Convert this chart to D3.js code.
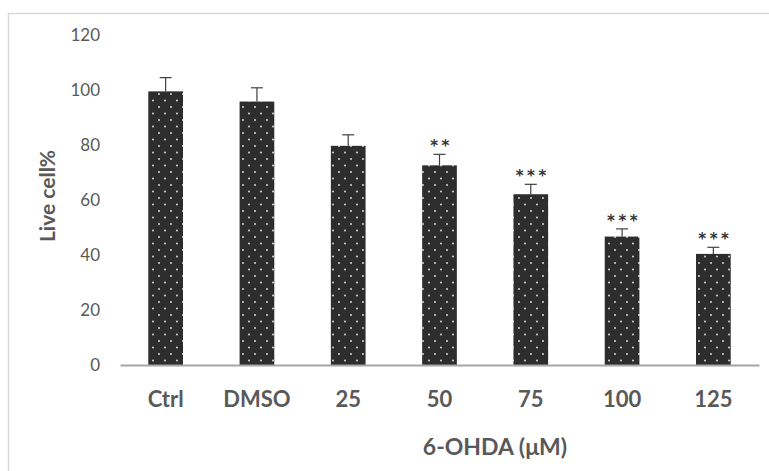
<!DOCTYPE html>
<html>
<head>
<meta charset="utf-8">
<script src="https://cdn.jsdelivr.net/npm/d3@7"></script>
<style>
  body { margin: 0; background: #fff; }
  svg { display: block; }
</style>
</head>
<body>
<div id="chart"></div>
<script>
"use strict";

// Data
const groups = ["Ctrl", "DMSO", "25", "50", "75", "100", "125"];
const liveCell = [99.5, 95.8, 79.7, 72.6, 62.1, 46.7, 40.4];
const errors = [5.0, 5.0, 4.0, 4.0, 3.6, 2.8, 2.4];
const stars = ["", "", "", "**", "***", "***", "***"];
const yTicks = [0, 20, 40, 60, 80, 100, 120];

const width = 769, height = 471;
const margin = {top: 35, right: 10, bottom: 106, left: 120};
const font = "Lato, 'Open Sans', sans-serif";

let svg = d3.select("#chart").append("svg")
  .attr("width", width)
  .attr("height", height);

// Dotted fill for the bars
let defs = svg.append("defs");
let pat = defs.append("pattern")
  .attr("id", "dots")
  .attr("patternUnits", "userSpaceOnUse")
  .attr("width", 12)
  .attr("height", 13);
pat.append("rect").attr("width", 12).attr("height", 13).attr("fill", "#2d2d2d");
pat.append("circle").attr("cx", 3).attr("cy", 3).attr("r", 0.9).attr("fill", "#e8e8e8");
pat.append("circle").attr("cx", 9).attr("cy", 9.5).attr("r", 0.9).attr("fill", "#e8e8e8");

// Frame (top and left edges visible)
svg.append("line")
  .attr("x1", 8).attr("x2", width).attr("y1", 13.5).attr("y2", 13.5)
  .attr("stroke", "#d9d9d9").attr("stroke-width", 1.5);
svg.append("line")
  .attr("x1", 8.5).attr("x2", 8.5).attr("y1", 13).attr("y2", height)
  .attr("stroke", "#d9d9d9").attr("stroke-width", 1.5);

let x = d3.scaleBand()
  .domain(groups)
  .range([margin.left, width - margin.right])
  .paddingInner(0.62)
  .paddingOuter(0.31);

let y = d3.scaleLinear()
  .domain([0, 120])
  .range([height - margin.bottom, margin.top]);

// Y axis labels (no line)
let yAxis = svg.append("g")
  .attr("transform", "translate(" + (margin.left - 20) + ",0)")
  .call(d3.axisLeft(y).tickValues(yTicks).tickSize(0).tickPadding(0));
yAxis.select(".domain").remove();
yAxis.selectAll("text")
  .attr("font-family", font)
  .attr("font-size", "17px")
  .attr("fill", "#595959");

// Bars
svg.selectAll(".bar")
  .data(groups)
  .enter().append("rect")
  .attr("class", "bar")
  .attr("x", d => x(d))
  .attr("y", (d, i) => y(liveCell[i]))
  .attr("width", x.bandwidth())
  .attr("height", (d, i) => y(0) - y(liveCell[i]))
  .attr("fill", "url(#dots)");

// Error bars (upper only)
let eb = svg.selectAll(".err")
  .data(groups)
  .enter().append("g")
  .attr("class", "err")
  .attr("stroke", "#404040")
  .attr("stroke-width", 1.2);
eb.append("line")
  .attr("x1", d => x(d) + x.bandwidth() / 2)
  .attr("x2", d => x(d) + x.bandwidth() / 2)
  .attr("y1", (d, i) => y(liveCell[i]))
  .attr("y2", (d, i) => y(liveCell[i] + errors[i]));
eb.append("line")
  .attr("x1", d => x(d) + x.bandwidth() / 2 - 6)
  .attr("x2", d => x(d) + x.bandwidth() / 2 + 6)
  .attr("y1", (d, i) => y(liveCell[i] + errors[i]))
  .attr("y2", (d, i) => y(liveCell[i] + errors[i]));

// Significance stars
svg.selectAll(".star")
  .data(groups)
  .enter().append("text")
  .attr("class", "star")
  .attr("x", d => x(d) + x.bandwidth() / 2 + 2)
  .attr("y", (d, i) => y(liveCell[i] + errors[i]) - 3)
  .attr("text-anchor", "middle")
  .attr("font-family", "'DejaVu Sans', sans-serif")
  .attr("font-weight", "bold")
  .attr("font-size", "15px")
  .attr("letter-spacing", "3.5px")
  .attr("fill", "#333")
  .text((d, i) => stars[i]);

// X axis
let xAxis = svg.append("g")
  .attr("transform", "translate(0," + y(0) + ")")
  .call(d3.axisBottom(x).tickSize(0).tickPadding(26));
xAxis.select(".domain")
  .attr("stroke", "#a6a6a6")
  .attr("stroke-width", 2);
xAxis.selectAll("text")
  .attr("font-family", font)
  .attr("font-weight", "bold")
  .attr("font-size", "22px")
  .attr("fill", "#595959");

// Axis titles
svg.append("text")
  .attr("x", 495)
  .attr("y", 455)
  .attr("text-anchor", "middle")
  .attr("font-family", font)
  .attr("font-weight", "bold")
  .attr("font-size", "23px")
  .attr("fill", "#595959")
  .text("6-OHDA (μM)");

svg.append("text")
  .attr("transform", "translate(55,196) rotate(-90)")
  .attr("text-anchor", "middle")
  .attr("font-family", font)
  .attr("font-weight", "bold")
  .attr("font-size", "21px")
  .attr("fill", "#595959")
  .text("Live cell%");
</script>
</body>
</html>
